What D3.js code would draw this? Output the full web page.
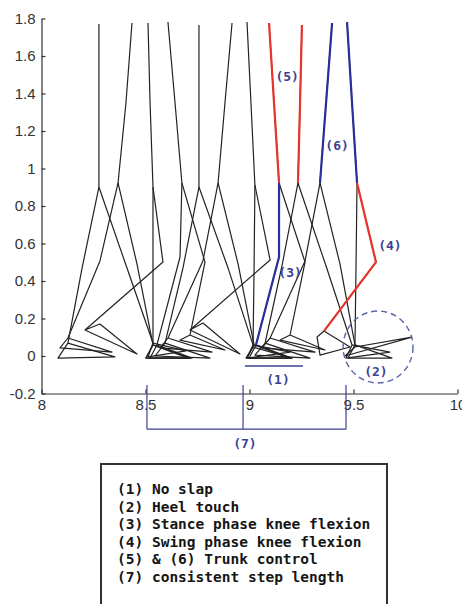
<!DOCTYPE html>
<html>
<head>
<meta charset="utf-8">
<script src="https://cdn.jsdelivr.net/npm/d3@7"></script>
<style>
  body { margin: 0; background: #fff; }
</style>
</head>
<body>
<div id="chart"></div>
<script>
// Stick figure frames (x = distance, y = height). Each leg: hip, knee, ankle, heel, toe, ankle.
var trunks = [
  [[8.276, 1.771], [8.276, 1.349], [8.276, 0.901]],
  [[8.435, 1.776], [8.406, 1.349], [8.368, 0.923]],
  [[8.512, 1.776], [8.522, 1.349], [8.536, 0.901]],
  [[8.608, 1.781], [8.642, 1.349], [8.675, 0.923]],
  [[8.757, 1.765], [8.757, 1.349], [8.757, 0.901]],
  [[8.916, 1.776], [8.882, 1.349], [8.849, 0.923]],
  [[8.988, 1.781], [9.007, 1.349], [9.026, 0.912]],
  [[9.094, 1.776], [9.118, 1.349], [9.142, 0.923]],
  [[9.252, 1.765], [9.243, 1.349], [9.233, 0.923]],
  [[9.397, 1.776], [9.368, 1.349], [9.339, 0.923]],
  [[9.469, 1.781], [9.493, 1.349], [9.517, 0.923]]
];

var stanceLegs = [
  [[8.276, 0.901], [8.411, 0.469], [8.536, 0.069], [8.512, -0.005], [8.695, 0.027], [8.536, 0.069]],
  [[8.368, 0.923], [8.459, 0.491], [8.536, 0.059], [8.502, -0.011], [8.704, -0.011], [8.536, 0.059]],
  [[8.536, 0.901], [8.536, 0.469], [8.536, 0.059], [8.502, -0.011], [8.714, -0.011], [8.536, 0.059]],
  [[8.675, 0.923], [8.666, 0.528], [8.555, 0.059], [8.522, -0.011], [8.724, -0.011], [8.555, 0.059]],
  [[8.757, 0.901], [8.897, 0.469], [9.017, 0.059], [8.988, -0.011], [9.195, 0.021], [9.017, 0.059]],
  [[8.849, 0.923], [8.945, 0.491], [9.022, 0.059], [8.988, -0.011], [9.195, -0.011], [9.022, 0.059]],
  [[9.026, 0.912], [9.022, 0.469], [9.017, 0.048], [8.983, -0.011], [9.204, -0.011], [9.017, 0.048]],
  [[9.142, 0.923], [9.142, 0.528], [9.031, 0.059], [8.998, -0.011], [9.204, -0.011], [9.031, 0.059]],
  [[9.233, 0.923], [9.368, 0.480], [9.493, 0.059], [9.464, -0.011], [9.675, 0.021], [9.493, 0.059]],
  [[9.339, 0.923], [9.435, 0.491], [9.507, 0.059], [9.474, -0.011], [9.685, -0.011], [9.507, 0.059]],
  [[9.517, 0.923], [9.512, 0.469], [9.507, 0.048], [9.459, 0.000], [9.781, 0.101], [9.507, 0.048]]
];

var swingLegs = [
  [[8.276, 0.901], [8.195, 0.469], [8.127, 0.069], [8.079, -0.011], [8.353, -0.005], [8.127, 0.069]],
  [[8.368, 0.923], [8.281, 0.507], [8.127, 0.096], [8.089, 0.043], [8.339, 0.021], [8.127, 0.096]],
  [[8.536, 0.901], [8.584, 0.501], [8.209, 0.139], [8.459, 0.011], [8.281, 0.171], [8.209, 0.139]],
  [[8.675, 0.923], [8.786, 0.501], [8.714, 0.112], [8.666, 0.085], [8.882, 0.032], [8.714, 0.112]],
  [[8.757, 0.901], [8.680, 0.469], [8.594, 0.069], [8.546, 0.000], [8.810, -0.011], [8.594, 0.069]],
  [[8.849, 0.923], [8.776, 0.507], [8.608, 0.096], [8.570, 0.043], [8.820, 0.021], [8.608, 0.096]],
  [[9.026, 0.912], [9.099, 0.512], [8.714, 0.139], [8.954, 0.011], [8.776, 0.176], [8.714, 0.139]],
  [[9.142, 0.923], [9.267, 0.501], [9.195, 0.112], [9.147, 0.085], [9.363, 0.032], [9.195, 0.112]],
  [[9.233, 0.923], [9.156, 0.480], [9.075, 0.069], [9.026, 0.005], [9.291, -0.011], [9.075, 0.069]],
  [[9.339, 0.923], [9.267, 0.507], [9.099, 0.096], [9.060, 0.043], [9.315, 0.021], [9.099, 0.096]],
  [[9.517, 0.923], [9.608, 0.501], [9.358, 0.133], [9.325, 0.101], [9.339, 0.005], [9.483, 0.048], [9.358, 0.133]]
];

// Coloured parts: frame index, which part, number of points, colour.
var highlights = [
  [7, "trunk", 3, "#e8342c"],
  [7, "stance", 3, "#2b2f9c"],
  [8, "trunk", 3, "#e8342c"],
  [9, "trunk", 3, "#2b2f9c"],
  [10, "trunk", 3, "#2b2f9c"],
  [10, "swing", 3, "#e8342c"]
];

var xTicks = [8, 8.5, 9, 9.5, 10];
var yTicks = [-0.2, 0, 0.2, 0.4, 0.6, 0.8, 1, 1.2, 1.4, 1.6, 1.8];

var labels = [
  ["(5)", 9.181, 1.493],
  ["(6)", 9.421, 1.125],
  ["(3)", 9.195, 0.448],
  ["(4)", 9.675, 0.592],
  ["(1)", 9.137, -0.123],
  ["(2)", 9.608, -0.080],
  ["(7)", 8.978, -0.464]
];
var stepMarks = [8.507, 8.969, 9.464];

var legendLines = [
  "(1) No slap",
  "(2) Heel touch",
  "(3) Stance phase knee flexion",
  "(4) Swing phase knee flexion",
  "(5) & (6) Trunk control",
  "(7) consistent step length"
];

var annColor = "#3a4194";

var svg = d3.select("#chart").append("svg")
  .attr("width", 462)
  .attr("height", 604)
  .style("font-family", "'Liberation Sans', Arial, sans-serif");

var x = d3.scaleLinear().domain([8, 10]).range([41.5, 457.5]);
var y = d3.scaleLinear().domain([-0.2, 1.8]).range([393.5, 18.5]);

var line = d3.line().x(function(d) { return x(d[0]); }).y(function(d) { return y(d[1]); });

// Black stick figures.
var parts = trunks.concat(stanceLegs, swingLegs);
svg.append("g").selectAll("path")
  .data(parts)
  .enter().append("path")
    .attr("d", line)
    .attr("fill", "none")
    .attr("stroke", "#222")
    .attr("stroke-width", 1.2)
    .attr("stroke-linejoin", "round");

// Highlighted segments on top.
var partSets = { trunk: trunks, stance: stanceLegs, swing: swingLegs };
svg.append("g").selectAll("path")
  .data(highlights)
  .enter().append("path")
    .attr("d", function(h) { return line(partSets[h[1]][h[0]].slice(0, h[2])); })
    .attr("fill", "none")
    .attr("stroke", function(h) { return h[3]; })
    .attr("stroke-width", 2.2)
    .attr("stroke-linejoin", "round");

// Axes, ticks pointing inwards.
var xAxis = svg.append("g")
  .attr("transform", "translate(0," + y(-0.2) + ")")
  .call(d3.axisBottom(x).tickValues(xTicks).tickSizeInner(-4).tickSizeOuter(0).tickPadding(6)
    .tickFormat(function(d) { return String(d); }));
var yAxis = svg.append("g")
  .attr("transform", "translate(" + x(8) + ",0)")
  .call(d3.axisLeft(y).tickValues(yTicks).tickSizeInner(-4).tickSizeOuter(0).tickPadding(6)
    .tickFormat(function(d) { return String(d); }));
[xAxis, yAxis].forEach(function(a) {
  a.selectAll("path, line").attr("stroke", "#333").attr("stroke-width", 1.2);
  a.selectAll("text").attr("fill", "#333").style("font-size", "15px")
    .style("font-family", "'Liberation Sans', Arial, sans-serif");
});

// Annotations.
svg.append("line")
  .attr("x1", x(8.978)).attr("x2", x(9.257))
  .attr("y1", y(-0.053)).attr("y2", y(-0.053))
  .attr("stroke", annColor).attr("stroke-width", 1.5);

svg.append("ellipse")
  .attr("cx", x(9.618)).attr("cy", y(0.048))
  .attr("rx", x(9.786) - x(9.618)).attr("ry", y(0.048) - y(0.24))
  .attr("fill", "none")
  .attr("stroke", "#5a63a8")
  .attr("stroke-width", 1.4)
  .attr("stroke-dasharray", "6,4");

svg.selectAll(".step")
  .data(stepMarks)
  .enter().append("line")
    .attr("x1", function(d) { return x(d); }).attr("x2", function(d) { return x(d); })
    .attr("y1", y(-0.155)).attr("y2", y(-0.39))
    .attr("stroke", annColor).attr("stroke-width", 1.2);
svg.append("line")
  .attr("x1", x(stepMarks[0])).attr("x2", x(stepMarks[2]))
  .attr("y1", y(-0.39)).attr("y2", y(-0.39))
  .attr("stroke", annColor).attr("stroke-width", 1.2);

svg.selectAll(".ann")
  .data(labels)
  .enter().append("text")
    .text(function(d) { return d[0]; })
    .attr("x", function(d) { return x(d[1]); })
    .attr("y", function(d) { return y(d[2]); })
    .attr("text-anchor", "middle")
    .attr("dominant-baseline", "central")
    .attr("fill", annColor)
    .style("font-family", "'DejaVu Sans Mono', monospace")
    .style("font-weight", "bold")
    .style("font-size", "13px");

// Legend box.
svg.append("rect")
  .attr("x", 101).attr("y", 464)
  .attr("width", 286).attr("height", 160)
  .attr("fill", "none")
  .attr("stroke", "#333")
  .attr("stroke-width", 2);

svg.selectAll(".legend")
  .data(legendLines)
  .enter().append("text")
    .text(function(d) { return d; })
    .attr("x", 117)
    .attr("y", function(d, i) { return 489 + i * 17.6; })
    .attr("dominant-baseline", "central")
    .attr("fill", "#151515")
    .style("font-family", "'DejaVu Sans Mono', monospace")
    .style("font-weight", "bold")
    .style("font-size", "14.5px");
</script>
</body>
</html>
